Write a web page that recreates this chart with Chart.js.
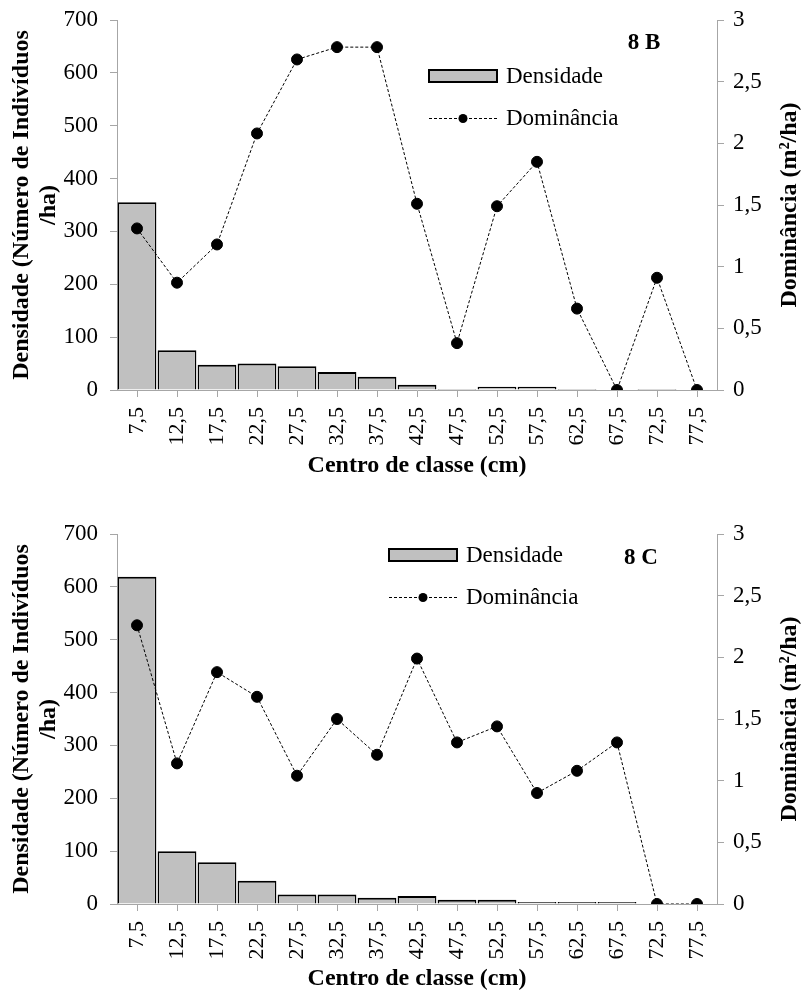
<!DOCTYPE html>
<html><head><meta charset="utf-8">
<script src="https://cdn.jsdelivr.net/npm/chart.js@4.4.1/dist/chart.umd.min.js"></script>
<style>
html,body{margin:0;padding:0;background:#fff;}
.wrap{position:absolute;left:0;width:804px;height:496px;}
canvas{display:block;}
</style></head><body>
<div class="wrap" style="top:0"><canvas id="c1" width="804" height="496"></canvas></div>
<div class="wrap" style="top:496px"><canvas id="c2" width="804" height="496"></canvas></div>
<script>
const categories = ['7,5','12,5','17,5','22,5','27,5','32,5','37,5','42,5','47,5','52,5','57,5','62,5','67,5','72,5','77,5'];
const densidadeB = [355, 75, 48, 50, 45, 34, 25, 10, 2, 6, 6, 2, 0, 2, 0];
const dominanciaB = [1.31, 0.87, 1.18, 2.08, 2.68, 2.78, 2.78, 1.51, 0.38, 1.49, 1.85, 0.66, 0, 0.91, 0];
const densidadeC = [619, 100, 79, 44, 18, 18, 12, 15, 8, 8, 4, 4, 4, 0, 0];
const dominanciaC = [2.26, 1.14, 1.88, 1.68, 1.04, 1.50, 1.21, 1.99, 1.31, 1.44, 0.90, 1.08, 1.31, 0, 0];
const seriesNames = ['Densidade', 'Dominância'];
const leftTitle = ['Densidade (Número de Indivíduos', '/ha)'];
const rightTitle = 'Dominância (m²/ha)';
const xTitle = 'Centro de classe (cm)';
const panelLabels = ['8 B', '8 C'];

const FONT = '"Liberation Serif", "Times New Roman", serif';
const AXIS = '#A6A6A6';

const extras = {
  id: 'extras',
  afterDraw(chart, args, o) {
    const ctx = chart.ctx, ca = chart.chartArea;
    ctx.save();
    ctx.fillStyle = '#000';
    // right axis title (reads bottom to top)
    ctx.font = 'bold 24px ' + FONT;
    ctx.textAlign = 'center'; ctx.textBaseline = 'middle';
    ctx.save();
    ctx.translate(o.rightTitleX, (ca.top + ca.bottom) / 2);
    ctx.rotate(-Math.PI / 2);
    ctx.fillText(o.rightTitle, 0, 0);
    ctx.restore();
    // panel label
    ctx.font = 'bold 23px ' + FONT;
    ctx.fillText(o.panel, o.panelX, o.panelY);
    // legend
    const bar = chart.data.datasets.find(d => d.type === 'bar');
    const line = chart.data.datasets.find(d => d.type === 'line');
    const L = o.legend;
    ctx.fillStyle = bar.backgroundColor;
    ctx.fillRect(L.x, L.y1 - 6, 68, 12);
    ctx.strokeStyle = '#000'; ctx.lineWidth = 2;
    ctx.strokeRect(L.x, L.y1 - 6, 68, 12);
    ctx.lineWidth = 1;
    ctx.setLineDash(line.borderDash);
    ctx.beginPath(); ctx.moveTo(L.x, L.y2 + 0.5); ctx.lineTo(L.x + 68, L.y2 + 0.5); ctx.stroke();
    ctx.setLineDash([]);
    ctx.beginPath(); ctx.arc(L.x + 34, L.y2 + 0.5, 4.5, 0, Math.PI * 2); ctx.fillStyle = '#000'; ctx.fill();
    ctx.font = '23px ' + FONT;
    ctx.textAlign = 'left';
    ctx.fillText(bar.label, L.x + 77, L.y1 + 1);
    ctx.fillText(line.label, L.x + 77, L.y2 + 1);
    ctx.restore();
  }
};

function makeChart(id, dens, dom, opts) {
  return new Chart(document.getElementById(id), {
    data: {
      labels: categories,
      datasets: [
        {
          type: 'bar', label: seriesNames[0], data: dens, yAxisID: 'y', order: 1,
          backgroundColor: '#C0C0C0', borderColor: '#000',
          borderWidth: {top: 2, left: 1.5, right: 1.5, bottom: 0},
          borderSkipped: 'bottom',
          barPercentage: 0.97, categoryPercentage: 1.0
        },
        {
          type: 'line', label: seriesNames[1], data: dom, yAxisID: 'y1', order: 0,
          borderColor: '#000', borderWidth: 1, borderDash: [3, 2],
          pointRadius: 5.5, pointBackgroundColor: '#000', pointBorderColor: '#000',
          tension: 0, fill: false
        }
      ]
    },
    options: {
      responsive: false, animation: false, devicePixelRatio: 1,
      layout: {padding: {top: opts.top, left: 0, right: 0, bottom: 0}},
      plugins: {
        legend: {display: false}, tooltip: {enabled: false},
        extras: opts.extras
      },
      scales: {
        x: {
          offset: true,
          grid: {drawOnChartArea: false, offset: false, tickLength: 7, color: AXIS},
          border: {display: true, color: AXIS, width: 1},
          ticks: {color: '#000', font: {family: FONT, size: 22}, minRotation: 90, maxRotation: 90, padding: 10, autoSkip: false},
          title: {display: true, text: xTitle, color: '#000', font: {family: FONT, size: 24, weight: 'bold', lineHeight: 1}, padding: {top: 0, bottom: opts.xTitlePad}},
          afterFit(s) { s.height = opts.xHeight; }
        },
        y: {
          position: 'left', min: 0, max: 700,
          grid: {drawOnChartArea: false, tickLength: 7, color: AXIS},
          border: {display: true, color: AXIS, width: 1},
          ticks: {stepSize: 100, color: '#000', font: {family: FONT, size: 23, lineHeight: 0.6}, padding: 12},
          title: {display: true, text: leftTitle, color: '#000', font: {family: FONT, size: 24, weight: 'bold', lineHeight: 1.125}, padding: {top: 8, bottom: 0}},
          afterFit(s) { s.width = 117; }
        },
        y1: {
          position: 'right', min: 0, max: 3,
          grid: {drawOnChartArea: false, tickLength: 7, color: AXIS},
          border: {display: true, color: AXIS, width: 1},
          ticks: {stepSize: 0.5, color: '#000', font: {family: FONT, size: 23, lineHeight: 0.6}, padding: 9,
                  callback: v => String(v).replace('.', ',')},
          afterFit(s) { s.width = 87; }
        }
      }
    },
    plugins: [extras]
  });
}

makeChart('c1', densidadeB, dominanciaB, {
  top: 20, xHeight: 106, xTitlePad: 18,
  extras: {rightTitle: rightTitle, rightTitleX: 790, panel: panelLabels[0], panelX: 644, panelY: 43,
           legend: {x: 429, y1: 76, y2: 118}}
});
makeChart('c2', densidadeC, dominanciaC, {
  top: 38, xHeight: 88, xTitlePad: 1,
  extras: {rightTitle: rightTitle, rightTitleX: 790, panel: panelLabels[1], panelX: 641, panelY: 62,
           legend: {x: 389, y1: 59, y2: 101}}
});
</script>
</body></html>
